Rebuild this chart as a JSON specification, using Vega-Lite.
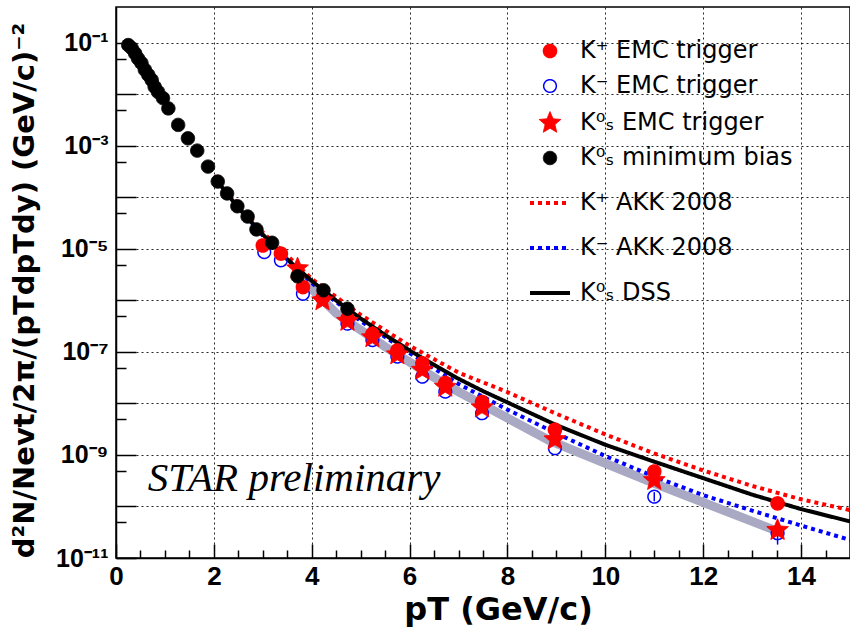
{
  "$schema": "https://vega.github.io/schema/vega-lite/v6.json",
  "width": 734,
  "height": 551,
  "autosize": {"type": "none"},
  "padding": {"left": 116, "top": 7, "right": 0, "bottom": 80},
  "background": "white",
  "datasets": {
    "band": [
      {"pT": 3.8, "v": 2.6e-6},
      {"pT": 4.5, "v": 5.62e-7},
      {"pT": 5.5, "v": 1.26e-7},
      {"pT": 6.8, "v": 2.14e-8},
      {"pT": 8.84, "v": 1.95e-9},
      {"pT": 11.0, "v": 2.82e-10},
      {"pT": 13.46, "v": 3.47e-11}
    ],
    "curves": [
      {"s": "K⁺ AKK 2008", "pT": 2.0, "v": 2.63e-4},
      {"s": "K⁺ AKK 2008", "pT": 3.0, "v": 2.09e-5},
      {"s": "K⁺ AKK 2008", "pT": 4.0, "v": 2.63e-6},
      {"s": "K⁺ AKK 2008", "pT": 5.0, "v": 5.25e-7},
      {"s": "K⁺ AKK 2008", "pT": 6.0, "v": 1.32e-7},
      {"s": "K⁺ AKK 2008", "pT": 7.0, "v": 3.98e-8},
      {"s": "K⁺ AKK 2008", "pT": 8.0, "v": 1.66e-8},
      {"s": "K⁺ AKK 2008", "pT": 9.0, "v": 6.31e-9},
      {"s": "K⁺ AKK 2008", "pT": 10.0, "v": 2.51e-9},
      {"s": "K⁺ AKK 2008", "pT": 11.0, "v": 1.07e-9},
      {"s": "K⁺ AKK 2008", "pT": 12.0, "v": 5.01e-10},
      {"s": "K⁺ AKK 2008", "pT": 13.0, "v": 2.51e-10},
      {"s": "K⁺ AKK 2008", "pT": 14.0, "v": 1.38e-10},
      {"s": "K⁺ AKK 2008", "pT": 15.0, "v": 8.51e-11},
      {"s": "K⁻ AKK 2008", "pT": 2.0, "v": 2.40e-4},
      {"s": "K⁻ AKK 2008", "pT": 3.0, "v": 1.82e-5},
      {"s": "K⁻ AKK 2008", "pT": 4.0, "v": 2.19e-6},
      {"s": "K⁻ AKK 2008", "pT": 5.0, "v": 3.98e-7},
      {"s": "K⁻ AKK 2008", "pT": 6.0, "v": 9.55e-8},
      {"s": "K⁻ AKK 2008", "pT": 7.0, "v": 2.40e-8},
      {"s": "K⁻ AKK 2008", "pT": 8.0, "v": 7.59e-9},
      {"s": "K⁻ AKK 2008", "pT": 9.0, "v": 2.63e-9},
      {"s": "K⁻ AKK 2008", "pT": 10.0, "v": 9.55e-10},
      {"s": "K⁻ AKK 2008", "pT": 11.0, "v": 3.80e-10},
      {"s": "K⁻ AKK 2008", "pT": 12.0, "v": 1.66e-10},
      {"s": "K⁻ AKK 2008", "pT": 13.0, "v": 8.32e-11},
      {"s": "K⁻ AKK 2008", "pT": 14.0, "v": 4.27e-11},
      {"s": "K⁻ AKK 2008", "pT": 15.0, "v": 2.24e-11},
      {"s": "K⁰ₛ DSS", "pT": 2.0, "v": 2.51e-4},
      {"s": "K⁰ₛ DSS", "pT": 2.5, "v": 6.31e-5},
      {"s": "K⁰ₛ DSS", "pT": 3.0, "v": 1.91e-5},
      {"s": "K⁰ₛ DSS", "pT": 3.5, "v": 6.31e-6},
      {"s": "K⁰ₛ DSS", "pT": 4.0, "v": 2.40e-6},
      {"s": "K⁰ₛ DSS", "pT": 4.5, "v": 1.0e-6},
      {"s": "K⁰ₛ DSS", "pT": 5.0, "v": 4.47e-7},
      {"s": "K⁰ₛ DSS", "pT": 5.5, "v": 2.14e-7},
      {"s": "K⁰ₛ DSS", "pT": 6.0, "v": 1.07e-7},
      {"s": "K⁰ₛ DSS", "pT": 6.5, "v": 5.62e-8},
      {"s": "K⁰ₛ DSS", "pT": 7.0, "v": 3.02e-8},
      {"s": "K⁰ₛ DSS", "pT": 7.5, "v": 1.74e-8},
      {"s": "K⁰ₛ DSS", "pT": 8.0, "v": 1.05e-8},
      {"s": "K⁰ₛ DSS", "pT": 9.0, "v": 3.80e-9},
      {"s": "K⁰ₛ DSS", "pT": 10.0, "v": 1.58e-9},
      {"s": "K⁰ₛ DSS", "pT": 11.0, "v": 7.41e-10},
      {"s": "K⁰ₛ DSS", "pT": 12.0, "v": 3.55e-10},
      {"s": "K⁰ₛ DSS", "pT": 13.0, "v": 1.70e-10},
      {"s": "K⁰ₛ DSS", "pT": 14.0, "v": 8.91e-11},
      {"s": "K⁰ₛ DSS", "pT": 15.0, "v": 5.13e-11}
    ],
    "err": [
      {"pT": 11.0, "lo": 1.26e-10, "hi": 1.9e-10},
      {"pT": 13.52, "lo": 1.82e-11, "hi": 3.98e-11}
    ],
    "pts": [
      {"s": "K⁻ EMC trigger", "pT": 3.03, "v": 8.71e-6},
      {"s": "K⁻ EMC trigger", "pT": 3.37, "v": 6.03e-6},
      {"s": "K⁻ EMC trigger", "pT": 3.82, "v": 1.35e-6},
      {"s": "K⁻ EMC trigger", "pT": 4.73, "v": 3.55e-7},
      {"s": "K⁻ EMC trigger", "pT": 5.24, "v": 1.70e-7},
      {"s": "K⁻ EMC trigger", "pT": 5.75, "v": 8.13e-8},
      {"s": "K⁻ EMC trigger", "pT": 6.26, "v": 3.31e-8},
      {"s": "K⁻ EMC trigger", "pT": 6.73, "v": 1.70e-8},
      {"s": "K⁻ EMC trigger", "pT": 7.48, "v": 6.46e-9},
      {"s": "K⁻ EMC trigger", "pT": 8.97, "v": 1.35e-9},
      {"s": "K⁻ EMC trigger", "pT": 11.0, "v": 1.55e-10},
      {"s": "K⁻ EMC trigger", "pT": 13.52, "v": 3.02e-11},
      {"s": "K⁺ EMC trigger", "pT": 3.0, "v": 1.17e-5},
      {"s": "K⁺ EMC trigger", "pT": 3.37, "v": 8.13e-6},
      {"s": "K⁺ EMC trigger", "pT": 3.82, "v": 1.82e-6},
      {"s": "K⁺ EMC trigger", "pT": 4.22, "v": 1.12e-6},
      {"s": "K⁺ EMC trigger", "pT": 4.73, "v": 4.47e-7},
      {"s": "K⁺ EMC trigger", "pT": 5.24, "v": 2.24e-7},
      {"s": "K⁺ EMC trigger", "pT": 5.75, "v": 1.07e-7},
      {"s": "K⁺ EMC trigger", "pT": 6.26, "v": 6.03e-8},
      {"s": "K⁺ EMC trigger", "pT": 6.73, "v": 2.51e-8},
      {"s": "K⁺ EMC trigger", "pT": 7.48, "v": 1.07e-8},
      {"s": "K⁺ EMC trigger", "pT": 8.97, "v": 3.09e-9},
      {"s": "K⁺ EMC trigger", "pT": 11.0, "v": 4.79e-10},
      {"s": "K⁺ EMC trigger", "pT": 13.52, "v": 1.15e-10},
      {"s": "K⁰ₛ EMC trigger", "pT": 3.71, "v": 4.17e-6},
      {"s": "K⁰ₛ EMC trigger", "pT": 4.22, "v": 1.0e-6},
      {"s": "K⁰ₛ EMC trigger", "pT": 4.73, "v": 3.98e-7},
      {"s": "K⁰ₛ EMC trigger", "pT": 5.24, "v": 1.91e-7},
      {"s": "K⁰ₛ EMC trigger", "pT": 5.75, "v": 8.91e-8},
      {"s": "K⁰ₛ EMC trigger", "pT": 6.26, "v": 4.47e-8},
      {"s": "K⁰ₛ EMC trigger", "pT": 6.73, "v": 2.09e-8},
      {"s": "K⁰ₛ EMC trigger", "pT": 7.48, "v": 8.32e-9},
      {"s": "K⁰ₛ EMC trigger", "pT": 8.97, "v": 2.0e-9},
      {"s": "K⁰ₛ EMC trigger", "pT": 11.0, "v": 3.24e-10},
      {"s": "K⁰ₛ EMC trigger", "pT": 13.52, "v": 3.47e-11},
      {"s": "K⁰ₛ minimum bias", "pT": 0.25, "v": 0.0912},
      {"s": "K⁰ₛ minimum bias", "pT": 0.32, "v": 0.0794},
      {"s": "K⁰ₛ minimum bias", "pT": 0.39, "v": 0.0631},
      {"s": "K⁰ₛ minimum bias", "pT": 0.45, "v": 0.0501},
      {"s": "K⁰ₛ minimum bias", "pT": 0.52, "v": 0.0407},
      {"s": "K⁰ₛ minimum bias", "pT": 0.59, "v": 0.0302},
      {"s": "K⁰ₛ minimum bias", "pT": 0.66, "v": 0.0240},
      {"s": "K⁰ₛ minimum bias", "pT": 0.73, "v": 0.0191},
      {"s": "K⁰ₛ minimum bias", "pT": 0.79, "v": 0.0141},
      {"s": "K⁰ₛ minimum bias", "pT": 0.86, "v": 0.0112},
      {"s": "K⁰ₛ minimum bias", "pT": 0.96, "v": 0.00851},
      {"s": "K⁰ₛ minimum bias", "pT": 1.07, "v": 0.00537},
      {"s": "K⁰ₛ minimum bias", "pT": 1.27, "v": 0.00257},
      {"s": "K⁰ₛ minimum bias", "pT": 1.47, "v": 0.00141},
      {"s": "K⁰ₛ minimum bias", "pT": 1.66, "v": 0.000813},
      {"s": "K⁰ₛ minimum bias", "pT": 1.88, "v": 0.000398},
      {"s": "K⁰ₛ minimum bias", "pT": 2.08, "v": 0.000204},
      {"s": "K⁰ₛ minimum bias", "pT": 2.27, "v": 0.000120},
      {"s": "K⁰ₛ minimum bias", "pT": 2.48, "v": 6.76e-5},
      {"s": "K⁰ₛ minimum bias", "pT": 2.69, "v": 4.27e-5},
      {"s": "K⁰ₛ minimum bias", "pT": 2.87, "v": 2.40e-5},
      {"s": "K⁰ₛ minimum bias", "pT": 3.19, "v": 1.32e-5},
      {"s": "K⁰ₛ minimum bias", "pT": 3.71, "v": 2.95e-6},
      {"s": "K⁰ₛ minimum bias", "pT": 4.24, "v": 1.58e-6},
      {"s": "K⁰ₛ minimum bias", "pT": 4.73, "v": 6.92e-7}
    ],
    "note": [{"label": "STAR preliminary"}]
  },
  "resolve": {"axis": {"x": "independent", "y": "independent"}},
  "layer": [
    {
      "data": {"name": "band"},
      "mark": {"type": "line", "stroke": "#a9a9c4", "strokeWidth": 9, "strokeCap": "butt"},
      "encoding": {
        "x": {"field": "pT", "type": "quantitative", "scale": {"domain": [0, 15], "nice": false, "zero": false},
          "axis": {"orient": "bottom", "values": [0,2,4,6,8,10,12,14], "tickSize": -14, "labelPadding": 19,
            "labelFont": "Liberation Sans", "labelFontWeight": "bold", "labelFontSize": 26, "labelFlush": false, "labelOverlap": false,
            "grid": true, "title": "pT (GeV/c)", "titleFont": "DejaVu Sans", "titleFontWeight": "bold", "titleFontSize": 32,
            "titleX": 382, "titleY": 36, "titleBaseline": "top"}},
        "y": {"field": "v", "type": "quantitative", "scale": {"type": "log", "domain": [1e-11, 0.5], "nice": false},
          "axis": {"orient": "left", "values": [0.1,0.01,0.001,0.0001,1e-5,1e-6,1e-7,1e-8,1e-9,1e-10,1e-11], "tickSize": -20, "labelPadding": 28,
            "labelFont": "Liberation Sans", "labelFontWeight": "bold", "labelFontSize": 25, "labelFlush": false, "labelOverlap": false,
            "labelExpr": "(round(log(datum.value)/LN10) == -1) ? '10⁻¹' : (round(log(datum.value)/LN10) == -3) ? '10⁻³' : (round(log(datum.value)/LN10) == -5) ? '10⁻⁵' : (round(log(datum.value)/LN10) == -7) ? '10⁻⁷' : (round(log(datum.value)/LN10) == -9) ? '10⁻⁹' : (round(log(datum.value)/LN10) == -11) ? '10⁻¹¹' : ''",
            "grid": true, "title": "d²N/Nevt/2π/(pTdpTdy) (GeV/c)⁻²", "titleFont": "DejaVu Sans", "titleFontWeight": "bold", "titleFontSize": 29,
            "titleX": -92, "titleY": 283, "titleAngle": -90, "titleAlign": "center", "titleBaseline": "middle"}}
      }
    },
    {
      "data": {"name": "curves"},
      "mark": {"type": "line", "strokeCap": "butt"},
      "encoding": {
        "x": {"field": "pT", "type": "quantitative", "scale": {"domain": [0, 15], "nice": false, "zero": false},
          "axis": {"orient": "bottom", "values": [0.5,1,1.5,2.5,3,3.5,4.5,5,5.5,6.5,7,7.5,8.5,9,9.5,10.5,11,11.5,12.5,13,13.5,14.5], "tickSize": -8, "labels": false, "grid": false, "domain": false, "title": null}},
        "y": {"field": "v", "type": "quantitative", "scale": {"type": "log", "domain": [1e-11, 0.5], "nice": false},
          "axis": {"orient": "left", "values": [0.05,0.005,0.0005,5e-5,5e-6,5e-7,5e-8,5e-9,5e-10,5e-11], "tickSize": -10, "labels": false, "grid": false, "domain": false, "title": null}},
        "stroke": {"field": "s", "type": "nominal", "legend": {"title": null},
          "scale": {"domain": ["K⁺ EMC trigger", "K⁻ EMC trigger", "K⁰ₛ EMC trigger", "K⁰ₛ minimum bias", "K⁺ AKK 2008", "K⁻ AKK 2008", "K⁰ₛ DSS"],
            "range": ["#ff0000", "#0000ff", "#ff0000", "#000000", "#ff0000", "#0000ff", "#000000"]}},
        "strokeDash": {"field": "s", "type": "nominal", "legend": {"title": null},
          "scale": {"domain": ["K⁺ EMC trigger", "K⁻ EMC trigger", "K⁰ₛ EMC trigger", "K⁰ₛ minimum bias", "K⁺ AKK 2008", "K⁻ AKK 2008", "K⁰ₛ DSS"],
            "range": [[1,0],[1,0],[1,0],[1,0],[4,4],[4,4],[1,0]]}},
        "strokeWidth": {"field": "s", "type": "nominal", "legend": {"title": null},
          "scale": {"type": "ordinal", "domain": ["K⁺ EMC trigger", "K⁻ EMC trigger", "K⁰ₛ EMC trigger", "K⁰ₛ minimum bias", "K⁺ AKK 2008", "K⁻ AKK 2008", "K⁰ₛ DSS"],
            "range": [1.5, 1.5, 1, 1, 4, 4, 4]}}
      }
    },
    {
      "data": {"name": "err"},
      "mark": {"type": "rule", "stroke": "#0000ff", "strokeWidth": 1.5},
      "encoding": {
        "x": {"field": "pT", "type": "quantitative", "axis": null},
        "y": {"field": "lo", "type": "quantitative", "axis": null},
        "y2": {"field": "hi"}
      }
    },
    {
      "data": {"name": "pts"},
      "mark": {"type": "point", "filled": true, "opacity": 1},
      "encoding": {
        "x": {"field": "pT", "type": "quantitative", "axis": null},
        "y": {"field": "v", "type": "quantitative", "axis": null},
        "stroke": {"field": "s", "type": "nominal", "legend": {"title": null},
          "scale": {"domain": ["K⁺ EMC trigger", "K⁻ EMC trigger", "K⁰ₛ EMC trigger", "K⁰ₛ minimum bias", "K⁺ AKK 2008", "K⁻ AKK 2008", "K⁰ₛ DSS"],
            "range": ["#ff0000", "#0000ff", "#ff0000", "#000000", "#ff0000", "#0000ff", "#000000"]}},
        "fill": {"field": "s", "type": "nominal", "legend": {"title": null},
          "scale": {"domain": ["K⁺ EMC trigger", "K⁻ EMC trigger", "K⁰ₛ EMC trigger", "K⁰ₛ minimum bias", "K⁺ AKK 2008", "K⁻ AKK 2008", "K⁰ₛ DSS"],
            "range": ["#ff0000", "transparent", "#ff0000", "#000000", "transparent", "transparent", "transparent"]}},
        "shape": {"field": "s", "type": "nominal", "legend": {"title": null},
          "scale": {"domain": ["K⁺ EMC trigger", "K⁻ EMC trigger", "K⁰ₛ EMC trigger", "K⁰ₛ minimum bias", "K⁺ AKK 2008", "K⁻ AKK 2008", "K⁰ₛ DSS"],
            "range": ["circle", "circle", "M0,-1L0.265,-0.364L0.951,-0.309L0.428,0.139L0.588,0.809L0,0.45L-0.588,0.809L-0.428,0.139L-0.951,-0.309L-0.265,-0.364Z", "circle", "stroke", "stroke", "stroke"]}},
        "size": {"field": "s", "type": "nominal", "legend": {"title": null},
          "scale": {"type": "ordinal", "domain": ["K⁺ EMC trigger", "K⁻ EMC trigger", "K⁰ₛ EMC trigger", "K⁰ₛ minimum bias", "K⁺ AKK 2008", "K⁻ AKK 2008", "K⁰ₛ DSS"],
            "range": [170, 160, 520, 180, 1600, 1600, 1600]}},
        "strokeWidth": {"field": "s", "type": "nominal", "legend": {"title": null},
          "scale": {"type": "ordinal", "domain": ["K⁺ EMC trigger", "K⁻ EMC trigger", "K⁰ₛ EMC trigger", "K⁰ₛ minimum bias", "K⁺ AKK 2008", "K⁻ AKK 2008", "K⁰ₛ DSS"],
            "range": [1.5, 1.5, 1, 1, 4, 4, 4]}},
        "strokeDash": {"field": "s", "type": "nominal", "legend": {"title": null},
          "scale": {"domain": ["K⁺ EMC trigger", "K⁻ EMC trigger", "K⁰ₛ EMC trigger", "K⁰ₛ minimum bias", "K⁺ AKK 2008", "K⁻ AKK 2008", "K⁰ₛ DSS"],
            "range": [[1,0],[1,0],[1,0],[1,0],[4,4],[4,4],[1,0]]}}
      }
    },
    {
      "data": {"name": "note"},
      "mark": {"type": "text", "font": "Liberation Serif", "fontStyle": "italic", "fontSize": 41, "align": "left", "baseline": "alphabetic", "color": "#000000"},
      "encoding": {
        "x": {"datum": 0.65, "type": "quantitative", "axis": null},
        "y": {"datum": 2e-10, "type": "quantitative", "axis": null},
        "text": {"field": "label", "type": "nominal"}
      }
    }
  ],
  "config": {
    "view": {"stroke": "#000000", "strokeWidth": 1.5},
    "axis": {"domainColor": "#000000", "domainWidth": 1.5, "tickColor": "#000000", "tickWidth": 1.5,
      "gridColor": "#000000", "gridDash": [2, 3], "gridWidth": 1, "gridOpacity": 0.85, "labelColor": "#000000", "titleColor": "#000000"},
    "legend": {"orient": "none", "legendX": 412, "legendY": 32, "padding": 0, "labelFont": "DejaVu Sans", "labelFontSize": 24,
      "labelColor": "#000000", "labelLimit": 400, "rowPadding": 11, "labelOffset": 8, "symbolOpacity": 1}
  }
}
